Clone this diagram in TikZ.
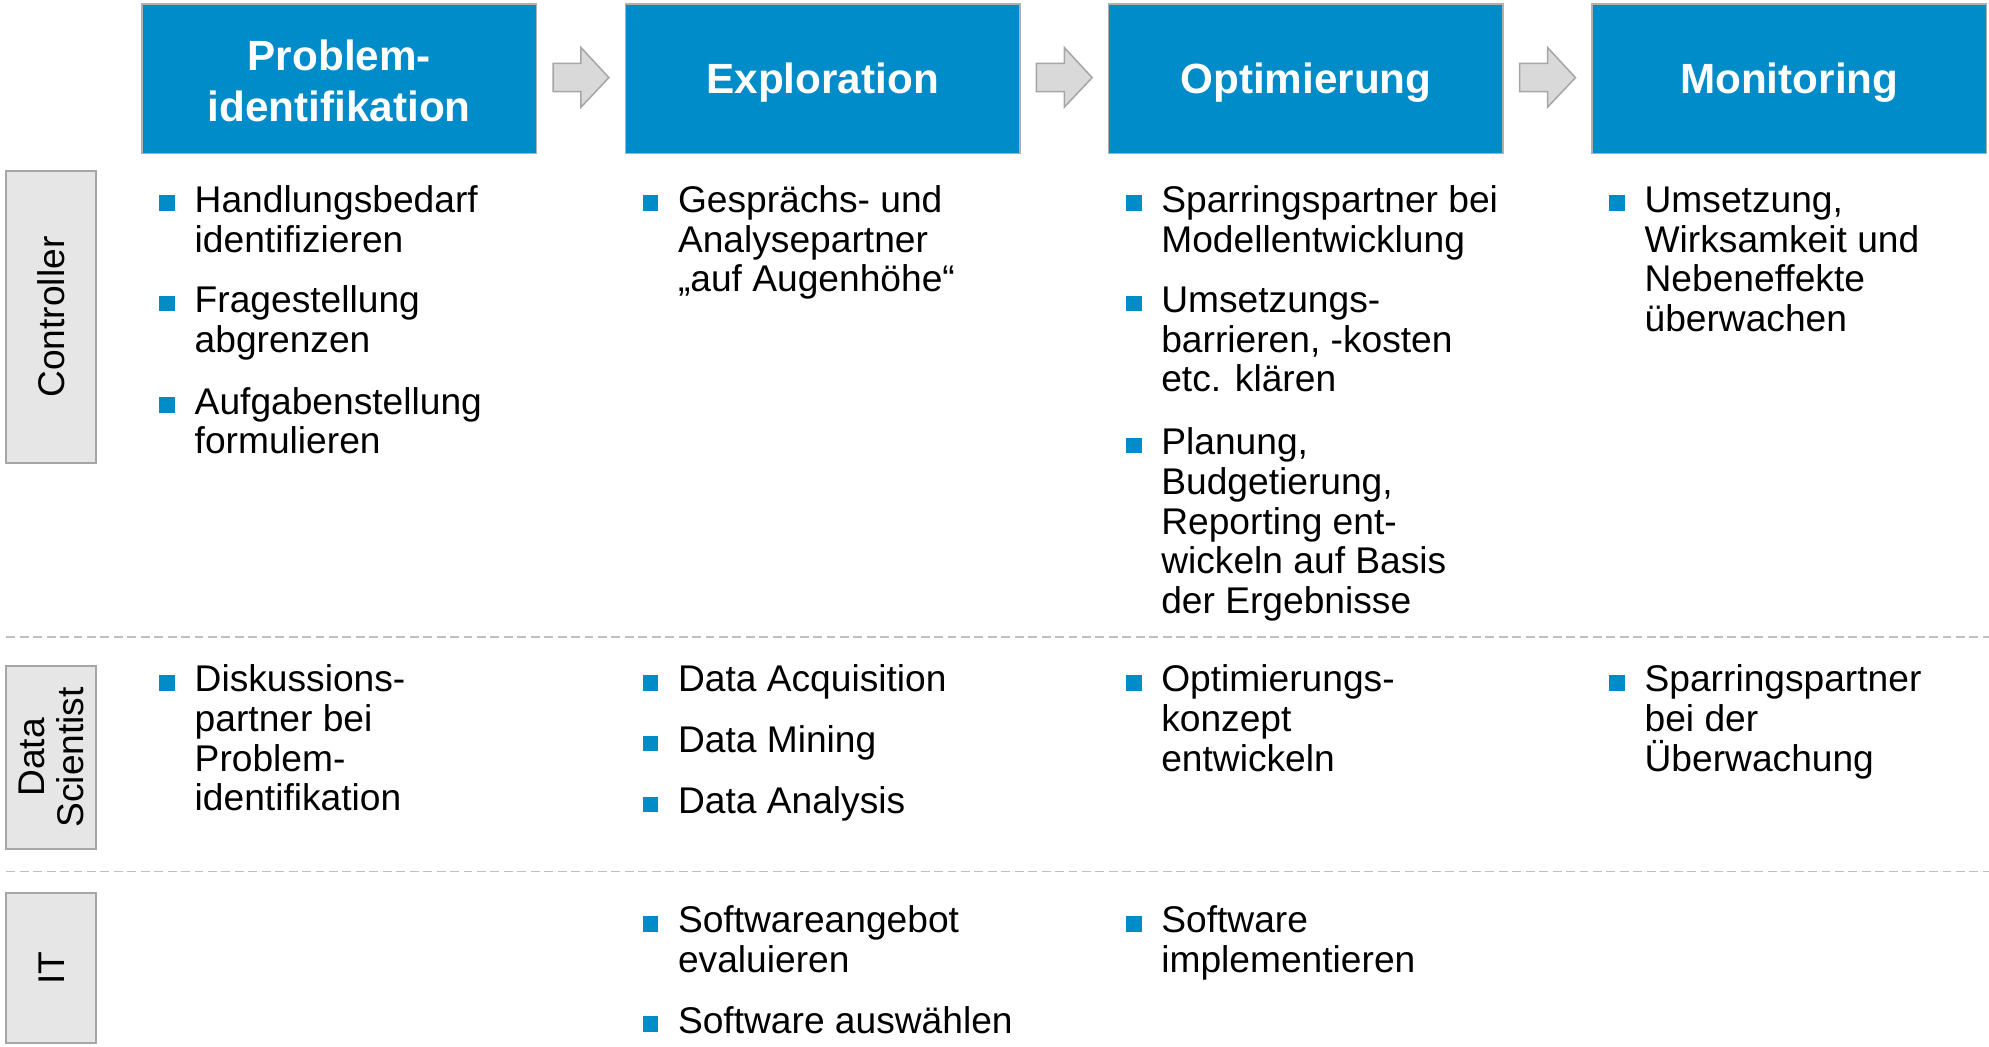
\documentclass[tikz,border=0pt]{standalone}
\usepackage{fontspec}
\setmainfont{Liberation Sans}

\definecolor{phaseblue}{RGB}{0,139,201}
\definecolor{phaseedge}{RGB}{175,175,175}
\definecolor{lanefill}{RGB}{230,230,230}
\definecolor{laneedge}{RGB}{166,166,166}
\definecolor{arrowfill}{RGB}{217,217,217}
\definecolor{arrowedge}{RGB}{166,166,166}
\definecolor{sepgray}{RGB}{191,191,191}

\newcommand\itemfont{\fontsize{29.3}{31.25}\selectfont}
\newcommand\phasefont{\fontsize{33.3}{40}\selectfont\bfseries}
\newcommand\celltext[1]{\parbox[t]{330pt}{\itemfont\raggedright #1}}

\tikzset{
  phase/.style={draw=phaseedge, line width=1.2pt, fill=phaseblue,
    minimum width=311pt, minimum height=118pt, inner sep=0pt},
  phasetitle/.style={text=white, font=\phasefont, align=center, inner sep=0pt},
  lane/.style={draw=laneedge, line width=1.5pt, fill=lanefill, font=\itemfont,
    align=center, rotate=90, inner sep=0pt, minimum height=71pt},
  itemtxt/.style={anchor=base west, inner sep=0pt},
  bulletsq/.style={fill=phaseblue, minimum size=12.4pt, inner sep=0pt},
  flowarrow/.style={fill=arrowfill, draw=arrowedge, line width=1.2pt, line join=miter},
  rowsep/.style={draw=sepgray, line width=1.3pt, dash pattern=on 7pt off 3.6pt}
}

% one bulleted entry: name, x of text, baseline of first line, lines
\newcommand\entry[4]{%
  \node[bulletsq] (#1b) at (#2-21.5,#3-7.3) {};
  \node[itemtxt] (#1) at (#2,#3) {\celltext{#4}};
}

\begin{document}
\begin{tikzpicture}[x=1pt, y=-1pt]
\useasboundingbox (0,0) rectangle (1568,825);

% phase headers
\node[phase] (p1) at (267.5,62) {};
\node[phase] (p2) at (648.5,62) {};
\node[phase] (p3) at (1029.5,62) {};
\node[phase] (p4) at (1410.5,62) {};
\node[phasetitle] (t1) at ([yshift=-1.5pt]p1.center) {Problem-\\identifikation};
\node[phasetitle] (t2) at ([yshift=-3pt]p2.center) {Exploration};
\node[phasetitle] (t3) at ([yshift=-3pt]p3.center) {Optimierung};
\node[phasetitle] (t4) at ([yshift=-3pt]p4.center) {Monitoring};

% block arrows between the phases
\foreach \dx in {0,381,762} {
  \draw[flowarrow] (436+\dx,50) -- (458+\dx,50) -- (458+\dx,37.5) -- (480+\dx,61.2)
    -- (458+\dx,84.5) -- (458+\dx,72.3) -- (436+\dx,72.3) -- cycle;
}

% role labels
\node[lane, minimum width=230pt] (rc) at (40.5,250) {Controller};
\node[lane, minimum width=144pt] (rd) at (40.5,597) {Data\\Scientist};
\node[lane, minimum width=118pt] (ri) at (40.5,763) {IT};

% row separators
\coordinate (s1a) at (5,502);   \coordinate (s1b) at (1568,502);
\coordinate (s2a) at (5,687);   \coordinate (s2b) at (1568,687);
\draw[rowsep] (s1a) -- (s1b);
\draw[rowsep] (s2a) -- (s2b);

% Controller row
\entry{ca1}{153.3}{167.5}{Handlungsbedarf\\identifizieren}
\entry{ca2}{153.3}{246.5}{Fragestellung\\abgrenzen}
\entry{ca3}{153.3}{326.5}{Aufgabenstellung\\formulieren}
\entry{cb1}{534.3}{167.5}{Gesprächs- und\\Analysepartner\\„auf Augenhöhe“}
\entry{cc1}{915.3}{167.5}{Sparringspartner bei\\Modellentwicklung}
\entry{cc2}{915.3}{246.5}{Umsetzungs-\\barrieren, -kosten\\etc. klären}
\entry{cc3}{915.3}{358.5}{Planung,\\Budgetierung,\\Reporting ent-\\wickeln auf Basis\\der Ergebnisse}
\entry{cd1}{1296.3}{167.5}{Umsetzung,\\Wirksamkeit und\\Nebeneffekte\\überwachen}

% Data Scientist row
\entry{da1}{153.3}{545.5}{Diskussions-\\partner bei\\Problem-\\identifikation}
\entry{db1}{534.3}{545.5}{Data Acquisition}
\entry{db2}{534.3}{593.5}{Data Mining}
\entry{db3}{534.3}{641.5}{Data Analysis}
\entry{dc1}{915.3}{545.5}{Optimierungs-\\konzept\\entwickeln}
\entry{dd1}{1296.3}{545.5}{Sparringspartner\\bei der\\Überwachung}

% IT row
\entry{ib1}{534.3}{735.5}{Softwareangebot\\evaluieren}
\entry{ib2}{534.3}{814.5}{Software auswählen}
\entry{ic1}{915.3}{735.5}{Software\\implementieren}

\end{tikzpicture}
\end{document}
